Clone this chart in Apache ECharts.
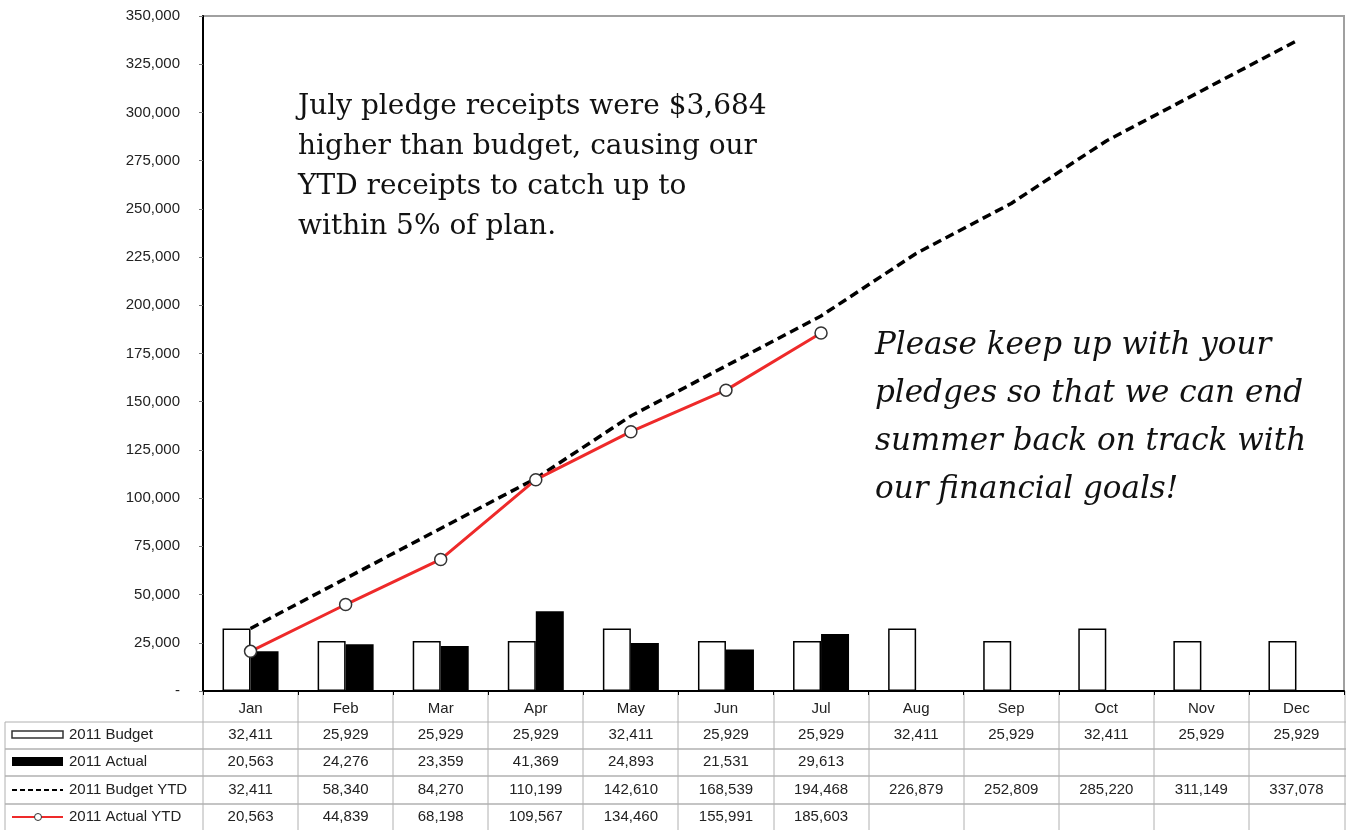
<!DOCTYPE html>
<html>
<head>
<meta charset="utf-8">
<script src="https://cdn.jsdelivr.net/npm/echarts@6/dist/echarts.min.js"></script>
<style>
html,body{margin:0;padding:0;background:#fff;}
#main{width:1346px;height:830px;}
</style>
</head>
<body>
<div id="main"></div>
<script>
// 数据
var months = ['Jan','Feb','Mar','Apr','May','Jun','Jul','Aug','Sep','Oct','Nov','Dec'];
var budget = [32411,25929,25929,25929,32411,25929,25929,32411,25929,32411,25929,25929];
var actual = [20563,24276,23359,41369,24893,21531,29613];
var budgetYtd = [32411,58340,84270,110199,142610,168539,194468,226879,252809,285220,311149,337078];
var actualYtd = [20563,44839,68198,109567,134460,155991,185603];
var rowNames = ['2011 Budget','2011 Actual','2011 Budget YTD','2011 Actual YTD'];
var note1 = 'July pledge receipts were $3,684\nhigher than budget, causing our\nYTD receipts to catch up to\nwithin 5% of plan.';
var note2 = 'Please keep up with your\npledges so that we can end\nsummer back on track with\nour financial goals!';

var sans = '"Liberation Sans", Arial, sans-serif';
var fmt = function(v){ return v.toLocaleString('en-US'); };

var myChart = echarts.init(document.getElementById('main'));

var option = {
	animation: false,
	backgroundColor: '#fff',
	grid: {
		left: 203, right: 2, top: 16, bottom: 139,
		show: true, borderColor: '#a0a0a0', borderWidth: 2
	},
	xAxis: {
		type: 'category',
		data: months,
		axisLine: {lineStyle: {color: '#000', width: 2}},
		axisTick: {show: true, length: 4, lineStyle: {color: '#000'}},
		axisLabel: {margin: 10, fontFamily: sans, fontSize: 15, color: '#222'}
	},
	yAxis: {
		type: 'value',
		min: 0, max: 350000, interval: 25000,
		splitLine: {show: false},
		axisLine: {show: true, lineStyle: {color: '#000', width: 2}},
		axisTick: {show: true, length: 4, lineStyle: {color: '#777'}},
		axisLabel: {
			margin: 23, fontFamily: sans, fontSize: 15, color: '#222',
			formatter: function(v){ return v === 0 ? '-' : fmt(v); }
		}
	},
	series: [{
		name: '2011 Budget', type: 'bar', data: budget,
		barWidth: 28, barGap: '0%',
		itemStyle: {color: '#fff', borderColor: '#000', borderWidth: 1.5}
	},{
		name: '2011 Actual', type: 'bar', data: actual,
		barWidth: 28,
		itemStyle: {color: '#000'}
	},{
		name: '2011 Budget YTD', type: 'line', data: budgetYtd,
		symbol: 'none', z: 3,
		lineStyle: {color: '#000', width: 3.5, type: [9, 5]}
	},{
		name: '2011 Actual YTD', type: 'line', data: actualYtd,
		symbol: 'circle', symbolSize: 12, z: 4,
		lineStyle: {color: '#ee2a2a', width: 3},
		itemStyle: {color: '#fff', borderColor: '#333', borderWidth: 1.5}
	}]
};
myChart.setOption(option);

// 数据表 + 注释
function buildGraphic() {
	var g = [];
	var x0 = myChart.convertToPixel({xAxisIndex: 0}, 0);
	var x1 = myChart.convertToPixel({xAxisIndex: 0}, 1);
	var w = x1 - x0;
	var axisY = myChart.convertToPixel({yAxisIndex: 0}, 0);
	var lines = [722, 749, 776, 804];
	var rowsY = [735, 762, 790, 817];
	var grey = '#b0b0b0';
	var font = '15px ' + sans;
	var i, j;

	// 竖线
	for (i = 0; i <= 12; i++) {
		var bx = Math.round(x0 - w / 2 + i * w);
		if (i === 12) bx = 1345;
		g.push({type: 'line', shape: {x1: bx, y1: axisY, x2: bx, y2: 830}, style: {stroke: grey, lineWidth: 1}});
	}
	// 横线
	for (i = 0; i < lines.length; i++) {
		g.push({type: 'line', shape: {x1: 5, y1: lines[i], x2: 1346, y2: lines[i]}, style: {stroke: grey, lineWidth: i === 0 ? 1 : 1.5}});
	}
	g.push({type: 'line', shape: {x1: 5, y1: 722, x2: 5, y2: 830}, style: {stroke: grey, lineWidth: 1}});

	// 图例符号
	g.push({type: 'rect', shape: {x: 12, y: 731, width: 51, height: 7}, style: {fill: '#fff', stroke: '#333', lineWidth: 1.5}});
	g.push({type: 'rect', shape: {x: 12, y: 757, width: 51, height: 9}, style: {fill: '#000'}});
	g.push({type: 'line', shape: {x1: 12, y1: 790, x2: 63, y2: 790}, style: {stroke: '#000', lineWidth: 2, lineDash: [5, 3]}});
	g.push({type: 'line', shape: {x1: 12, y1: 817, x2: 63, y2: 817}, style: {stroke: '#ee2a2a', lineWidth: 2}});
	g.push({type: 'circle', shape: {cx: 38, cy: 817, r: 3.5}, style: {fill: '#fff', stroke: '#333', lineWidth: 1}});

	var rows = [budget, actual, budgetYtd, actualYtd];
	for (j = 0; j < rows.length; j++) {
		g.push({type: 'text', x: 69, y: rowsY[j], style: {text: rowNames[j], font: font, fill: '#222', textVerticalAlign: 'middle'}});
		for (i = 0; i < rows[j].length; i++) {
			g.push({type: 'text', x: x0 + i * w, y: rowsY[j], style: {text: fmt(rows[j][i]), font: font, fill: '#222', textAlign: 'center', textVerticalAlign: 'middle'}});
		}
	}

	// 注释
	g.push({type: 'text', x: 298, y: 87, z: 10, style: {text: note1, font: '28px "DejaVu Serif", serif', fill: '#111', lineHeight: 40}});
	g.push({type: 'text', x: 875, y: 322, z: 10, style: {text: note2, font: 'italic 31px "DejaVu Serif", serif', fill: '#111', lineHeight: 48}});
	return g;
}

myChart.setOption({graphic: buildGraphic()});
</script>
</body>
</html>
